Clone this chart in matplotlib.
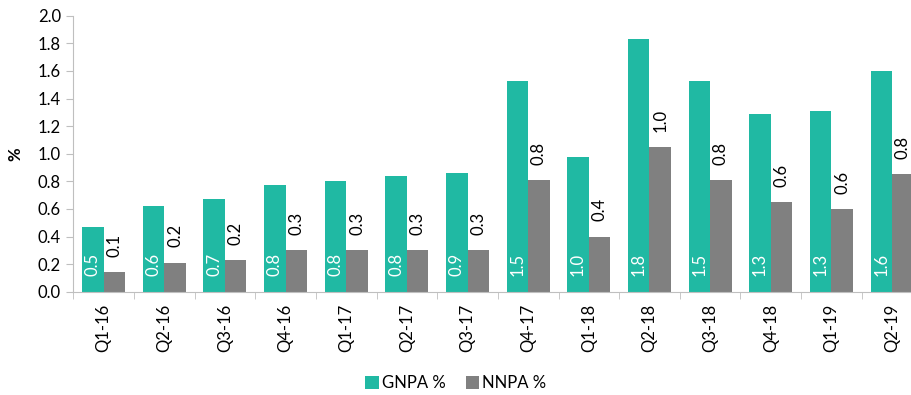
import matplotlib.pyplot as plt
import numpy as np

quarters = ["Q1-16", "Q2-16", "Q3-16", "Q4-16", "Q1-17", "Q2-17", "Q3-17",
            "Q4-17", "Q1-18", "Q2-18", "Q3-18", "Q4-18", "Q1-19", "Q2-19"]
gnpa = [0.47, 0.62, 0.67, 0.77, 0.80, 0.84, 0.86, 1.53, 0.98, 1.83, 1.53, 1.29, 1.31, 1.60]
nnpa = [0.14, 0.21, 0.23, 0.30, 0.30, 0.30, 0.30, 0.81, 0.40, 1.05, 0.81, 0.65, 0.60, 0.85]
gnpa_labels = ["0.5", "0.6", "0.7", "0.8", "0.8", "0.8", "0.9", "1.5", "1.0", "1.8", "1.5", "1.3", "1.3", "1.6"]
nnpa_labels = ["0.1", "0.2", "0.2", "0.3", "0.3", "0.3", "0.3", "0.8", "0.4", "1.0", "0.8", "0.6", "0.6", "0.8"]

teal = "#20B9A3"
grey = "#808080"
axis_col = "#BFBFBF"

plt.rcParams["font.family"] = ["Lato", "DejaVu Sans"]

fig = plt.figure(figsize=(9.12, 3.95), dpi=100)
ax = fig.add_axes([0.0804, 0.2615, 0.931, 0.6985])

x = np.arange(len(quarters))
w = 0.355
b1 = ax.bar(x - w / 2, gnpa, w, color=teal, label="GNPA %")
b2 = ax.bar(x + w / 2, nnpa, w, color=grey, label="NNPA %")

fs = 12
for rect, lab in zip(b1, gnpa_labels):
    ax.annotate(lab, (rect.get_x() + rect.get_width() / 2, 0), xytext=(0, 11.5),
                textcoords="offset points", rotation=90, ha="center", va="bottom",
                color="white", fontsize=fs)
for rect, lab in zip(b2, nnpa_labels):
    ax.annotate(lab, (rect.get_x() + rect.get_width() / 2, rect.get_height()),
                xytext=(0, 11), textcoords="offset points", rotation=90,
                ha="center", va="bottom", color="black", fontsize=fs)

ax.set_xlim(-0.5, len(quarters) - 0.5)
ax.set_ylim(0, 2.0)
ax.set_yticks(np.arange(0, 2.01, 0.2))
ax.set_yticklabels([f"{v:.1f}" for v in np.arange(0, 2.01, 0.2)], fontsize=fs)
ax.set_xticks(x)
ax.set_xticklabels(quarters, rotation=90, fontsize=fs)
ax.set_xticks(np.arange(-0.5, len(quarters), 1), minor=True)
ax.tick_params(axis="x", which="major", length=0, pad=9)
ax.tick_params(axis="x", which="minor", length=5, color=axis_col)
ax.tick_params(axis="y", length=5, color=axis_col, pad=4)
ax.set_ylabel("%", fontsize=fs, fontweight="bold", labelpad=10)

for s in ["top", "right"]:
    ax.spines[s].set_visible(False)
for s in ["left", "bottom"]:
    ax.spines[s].set_color(axis_col)

fig.legend(handles=[b1, b2], loc="center", bbox_to_anchor=(0.5, 0.03), ncol=2,
           frameon=False, fontsize=fs, handlelength=0.8, handleheight=0.8,
           handletextpad=0.2, columnspacing=1.2)

fig.savefig("out.png", dpi=100)
